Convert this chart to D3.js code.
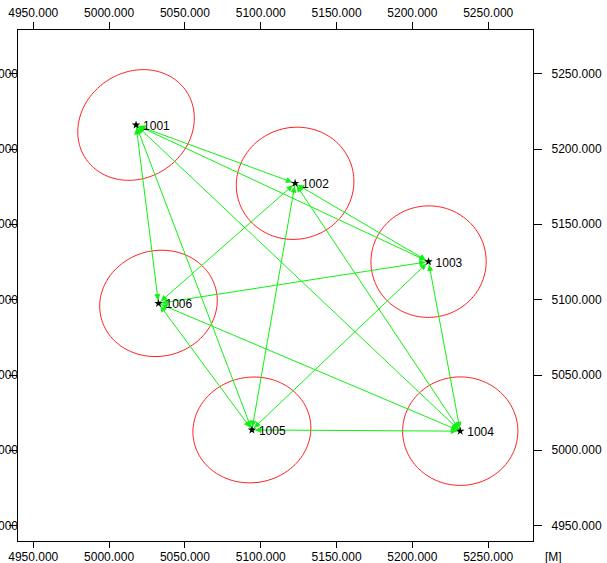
<!DOCTYPE html>
<html>
<head>
<meta charset="utf-8">
<script src="https://cdn.jsdelivr.net/npm/d3@7"></script>
<style>
  html, body { margin: 0; padding: 0; background: #fff; }
  svg { display: block; font-family: "Liberation Sans", Arial, sans-serif; }
</style>
</head>
<body>
<svg id="chart" width="607" height="563"></svg>
<script>
// Station names and coordinates (metres)
const stations = ["1001", "1002", "1003", "1004", "1005", "1006"];
const eastings  = [5018.1, 5123.0, 5211.0, 5231.9, 5094.5, 5032.9];
const northings = [5215.7, 5177.0, 5125.0, 5012.5, 5013.3, 5097.3];

// Error ellipses per station: semi-major, semi-minor (m), orientation (deg)
const ellipseA   = [40, 39, 38, 38, 39, 39];
const ellipseB   = [35, 37, 37, 36, 35, 35];
const ellipseRot = [35, 20, 5, 0, 10, 15];

// Observed lines between stations (index pairs)
const obsFrom = [0, 0, 0, 0, 0, 1, 1, 1, 1, 2, 2, 2, 3, 3, 4];
const obsTo   = [1, 2, 3, 4, 5, 2, 3, 4, 5, 3, 4, 5, 4, 5, 5];

// Axis tick values
const tickValues = [4950, 5000, 5050, 5100, 5150, 5200, 5250];
const unitLabel = "[M]";

const svg = d3.select("#chart");
const frame = { left: 17, right: 533.5, top: 29, bottom: 541 };

const x = d3.scaleLinear().domain([4939.6, 5280.2]).range([frame.left, frame.right]);
const y = d3.scaleLinear().domain([4939.6, 5279.4]).range([frame.bottom, frame.top]);

const fmt = d3.format(".3f");
const axisFont = "12px";

// Frame
svg.append("rect")
  .attr("x", frame.left).attr("y", frame.top)
  .attr("width", frame.right - frame.left).attr("height", frame.bottom - frame.top)
  .attr("fill", "none").attr("stroke", "#000").attr("stroke-width", 1)
  .attr("shape-rendering", "crispEdges");

function styleAxis(g) {
  g.select(".domain").remove();
  g.selectAll(".tick line").attr("stroke", "#000").attr("shape-rendering", "crispEdges");
  g.selectAll(".tick text").attr("fill", "#000").style("font-size", axisFont)
    .style("font-family", "'Liberation Sans', Arial, sans-serif");
}

svg.append("g").attr("transform", `translate(0,${frame.top})`)
  .call(d3.axisTop(x).tickValues(tickValues).tickFormat(fmt).tickSize(7).tickPadding(5))
  .call(styleAxis);

svg.append("g").attr("transform", `translate(0,${frame.bottom})`)
  .call(d3.axisBottom(x).tickValues(tickValues).tickFormat(fmt).tickSize(7).tickPadding(4))
  .call(styleAxis);

svg.append("g").attr("transform", `translate(${frame.right},0)`)
  .call(d3.axisRight(y).tickValues(tickValues).tickFormat(fmt).tickSize(8).tickPadding(10))
  .call(styleAxis);

// Left axis labels sit against the frame, running off the page edge
svg.append("g").attr("transform", `translate(${frame.left},0)`)
  .call(d3.axisLeft(y).tickValues(tickValues).tickFormat(fmt).tickSize(8).tickPadding(0))
  .call(styleAxis)
  .call(g => g.selectAll(".tick text").attr("x", 1));

svg.append("text")
  .attr("x", 545).attr("y", 561)
  .style("font-size", axisFont).attr("fill", "#000")
  .text(unitLabel);

// Error ellipses
const ellipseLine = d3.line().x(d => x(d[0])).y(d => y(d[1])).curve(d3.curveLinearClosed);
stations.forEach((s, i) => {
  const a = ellipseA[i], b = ellipseB[i], t = ellipseRot[i] * Math.PI / 180;
  const pts = d3.range(0, 2 * Math.PI, Math.PI / 90).map(u => {
    const ex = a * Math.cos(u), ey = b * Math.sin(u);
    return [eastings[i] + ex * Math.cos(t) - ey * Math.sin(t),
            northings[i] + ex * Math.sin(t) + ey * Math.cos(t)];
  });
  svg.append("path").attr("d", ellipseLine(pts))
    .attr("fill", "none").attr("stroke", "#ff1a1a").attr("stroke-width", 1);
});

// Observation lines with direction markers near each end
const green = "#11f011";
const obsG = svg.append("g");
obsFrom.forEach((fi, k) => {
  const ti = obsTo[k];
  const x1 = x(eastings[fi]), y1 = y(northings[fi]);
  const x2 = x(eastings[ti]), y2 = y(northings[ti]);
  obsG.append("line")
    .attr("x1", x1).attr("y1", y1).attr("x2", x2).attr("y2", y2)
    .attr("stroke", green).attr("stroke-width", 1);
  const len = Math.hypot(x2 - x1, y2 - y1);
  const ux = (x2 - x1) / len, uy = (y2 - y1) / len;
  [[x1, y1, ux, uy], [x2, y2, -ux, -uy]].forEach(([px, py, dx, dy]) => {
    const tipX = px + dx * 4, tipY = py + dy * 4;
    const baseX = px + dx * 9, baseY = py + dy * 9;
    const nx = -dy * 2.5, ny = dx * 2.5;
    obsG.append("path")
      .attr("d", `M${tipX},${tipY}L${baseX + nx},${baseY + ny}L${baseX - nx},${baseY - ny}Z`)
      .attr("fill", green).attr("stroke", green).attr("stroke-width", 0.8);
  });
});

// Station markers and names
const star = d3.symbol().type(d3.symbolStar).size(22);
stations.forEach((s, i) => {
  const px = x(eastings[i]), py = y(northings[i]);
  svg.append("path").attr("d", star()).attr("transform", `translate(${px},${py})`)
    .attr("fill", "#000");
  svg.append("text").attr("x", px + 7).attr("y", py + 5)
    .style("font-size", "12px").attr("fill", "#000").text(s);
});
</script>
</body>
</html>
